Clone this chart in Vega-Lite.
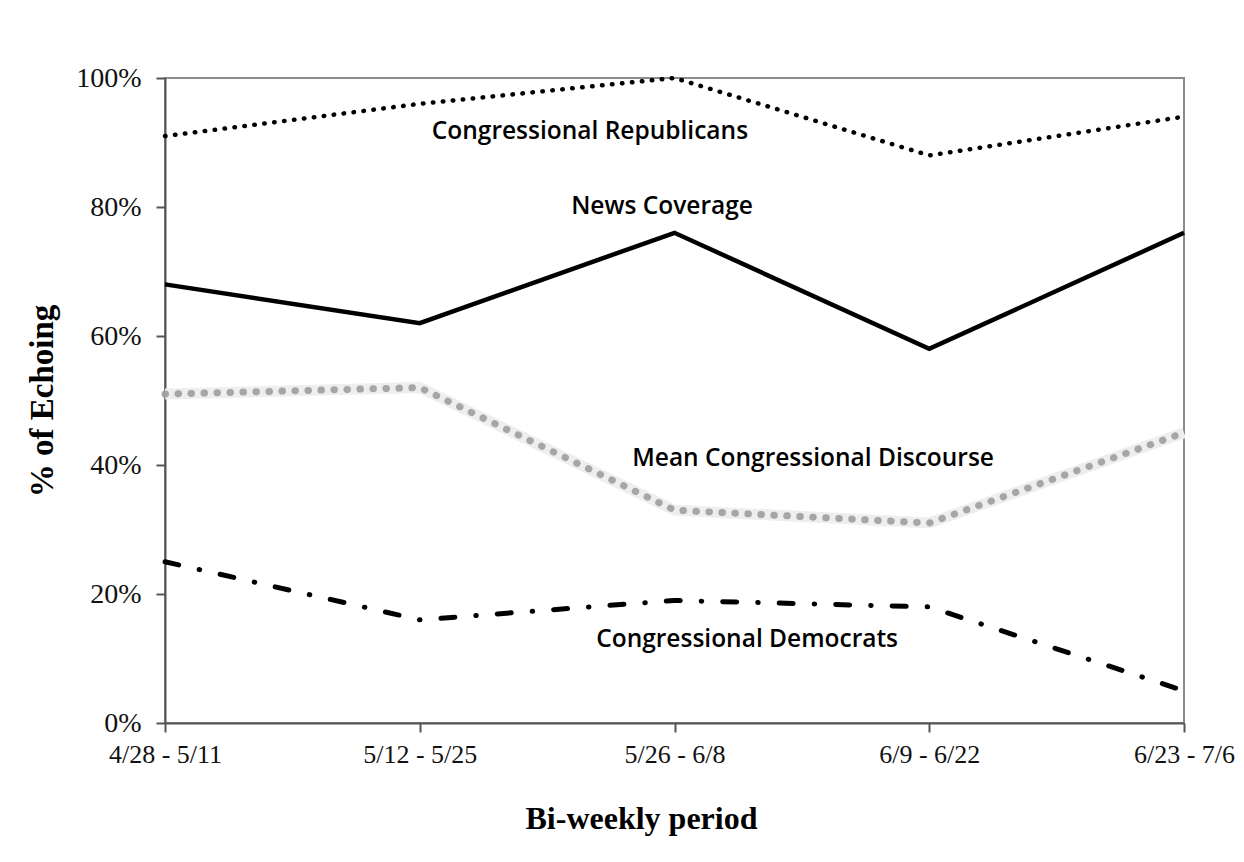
{
  "$schema": "https://vega.github.io/schema/vega-lite/v6.json",
  "width": 1019,
  "height": 645,
  "autosize": {"type": "none"},
  "padding": {"left": 165, "top": 78, "right": 60, "bottom": 139},
  "background": "white",
  "config": {
    "view": {"stroke": "#8c8c8c", "strokeWidth": 2},
    "axis": {
      "domainColor": "#555555",
      "domainWidth": 2,
      "tickColor": "#555555",
      "tickWidth": 2,
      "tickSize": 9,
      "grid": false,
      "labelFont": "Liberation Serif",
      "labelFontSize": 26,
      "labelColor": "#111111",
      "titleFont": "Liberation Serif",
      "titleFontWeight": "bold",
      "titleFontSize": 32,
      "titleColor": "#000000"
    }
  },
  "datasets": {
    "series": [
      {"series": "Congressional Republicans", "period": "4/28 - 5/11", "idx": 0, "value": 91},
      {"series": "Congressional Republicans", "period": "5/12 - 5/25", "idx": 1, "value": 96},
      {"series": "Congressional Republicans", "period": "5/26 - 6/8", "idx": 2, "value": 100},
      {"series": "Congressional Republicans", "period": "6/9 - 6/22", "idx": 3, "value": 88},
      {"series": "Congressional Republicans", "period": "6/23 - 7/6", "idx": 4, "value": 94},
      {"series": "News Coverage", "period": "4/28 - 5/11", "idx": 0, "value": 68},
      {"series": "News Coverage", "period": "5/12 - 5/25", "idx": 1, "value": 62},
      {"series": "News Coverage", "period": "5/26 - 6/8", "idx": 2, "value": 76},
      {"series": "News Coverage", "period": "6/9 - 6/22", "idx": 3, "value": 58},
      {"series": "News Coverage", "period": "6/23 - 7/6", "idx": 4, "value": 76},
      {"series": "Mean Congressional Discourse", "period": "4/28 - 5/11", "idx": 0, "value": 51},
      {"series": "Mean Congressional Discourse", "period": "5/12 - 5/25", "idx": 1, "value": 52},
      {"series": "Mean Congressional Discourse", "period": "5/26 - 6/8", "idx": 2, "value": 33},
      {"series": "Mean Congressional Discourse", "period": "6/9 - 6/22", "idx": 3, "value": 31},
      {"series": "Mean Congressional Discourse", "period": "6/23 - 7/6", "idx": 4, "value": 45},
      {"series": "Congressional Democrats", "period": "4/28 - 5/11", "idx": 0, "value": 25},
      {"series": "Congressional Democrats", "period": "5/12 - 5/25", "idx": 1, "value": 16},
      {"series": "Congressional Democrats", "period": "5/26 - 6/8", "idx": 2, "value": 19},
      {"series": "Congressional Democrats", "period": "6/9 - 6/22", "idx": 3, "value": 18},
      {"series": "Congressional Democrats", "period": "6/23 - 7/6", "idx": 4, "value": 5}
    ],
    "labels": [
      {"label": "Congressional Republicans", "x": 1.668, "y": 91.6},
      {"label": "News Coverage", "x": 1.951, "y": 80.0},
      {"label": "Mean Congressional Discourse", "x": 2.544, "y": 41.0},
      {"label": "Congressional Democrats", "x": 2.285, "y": 12.9}
    ]
  },
  "layer": [
    {
      "data": {"name": "series"},
      "transform": [{"filter": "datum.series === 'Mean Congressional Discourse'"}],
      "mark": {"type": "line", "color": "#eeeeee", "strokeWidth": 11, "clip": false},
      "encoding": {
        "x": {
          "field": "idx", "type": "quantitative",
          "scale": {"domain": [0, 4], "nice": false, "zero": false},
          "axis": {
            "values": [0, 1, 2, 3, 4],
            "labelExpr": "['4/28 - 5/11', '5/12 - 5/25', '5/26 - 6/8', '6/9 - 6/22', '6/23 - 7/6'][datum.value]",
            "labelFlush": false,
            "labelBound": false,
            "labelOverlap": false,
            "labelPadding": 9,
            "title": "Bi-weekly period",
            "titlePadding": 36,
            "titleX": 476
          }
        },
        "y": {
          "field": "value", "type": "quantitative",
          "scale": {"domain": [0, 100], "nice": false},
          "axis": {
            "values": [0, 20, 40, 60, 80, 100],
            "labelExpr": "datum.value + '%'",
            "labelFontSize": 28,
            "labelPadding": 15,
            "title": "% of Echoing",
            "titleFontSize": 33,
            "titlePadding": 16
          }
        }
      }
    },
    {
      "data": {"name": "series"},
      "transform": [{"filter": "datum.series === 'Mean Congressional Discourse'"}],
      "mark": {"type": "line", "color": "#9d9d9d", "strokeWidth": 7, "strokeCap": "round", "strokeDash": [0.5, 12.5], "opacity": 0.9, "clip": false},
      "encoding": {
        "x": {"field": "idx", "type": "quantitative"},
        "y": {"field": "value", "type": "quantitative"}
      }
    },
    {
      "data": {"name": "series"},
      "transform": [{"filter": "datum.series === 'Congressional Republicans'"}],
      "mark": {"type": "line", "color": "#000000", "strokeWidth": 4.5, "strokeCap": "round", "strokeDash": [0.5, 9.5], "clip": false},
      "encoding": {
        "x": {"field": "idx", "type": "quantitative"},
        "y": {"field": "value", "type": "quantitative"}
      }
    },
    {
      "data": {"name": "series"},
      "transform": [{"filter": "datum.series === 'News Coverage'"}],
      "mark": {"type": "line", "color": "#000000", "strokeWidth": 4.5, "clip": false},
      "encoding": {
        "x": {"field": "idx", "type": "quantitative"},
        "y": {"field": "value", "type": "quantitative"}
      }
    },
    {
      "data": {"name": "series"},
      "transform": [{"filter": "datum.series === 'Congressional Democrats'"}],
      "mark": {"type": "line", "color": "#000000", "strokeWidth": 5, "strokeCap": "round", "strokeDash": [14, 21, 0.5, 21], "clip": false},
      "encoding": {
        "x": {"field": "idx", "type": "quantitative"},
        "y": {"field": "value", "type": "quantitative"}
      }
    },
    {
      "data": {"name": "labels"},
      "mark": {"type": "text", "font": "Open Sans", "fontSize": 24.5, "fontWeight": 600, "color": "#000000", "align": "center", "baseline": "middle"},
      "encoding": {
        "x": {"field": "x", "type": "quantitative"},
        "y": {"field": "y", "type": "quantitative"},
        "text": {"field": "label"}
      }
    }
  ]
}
